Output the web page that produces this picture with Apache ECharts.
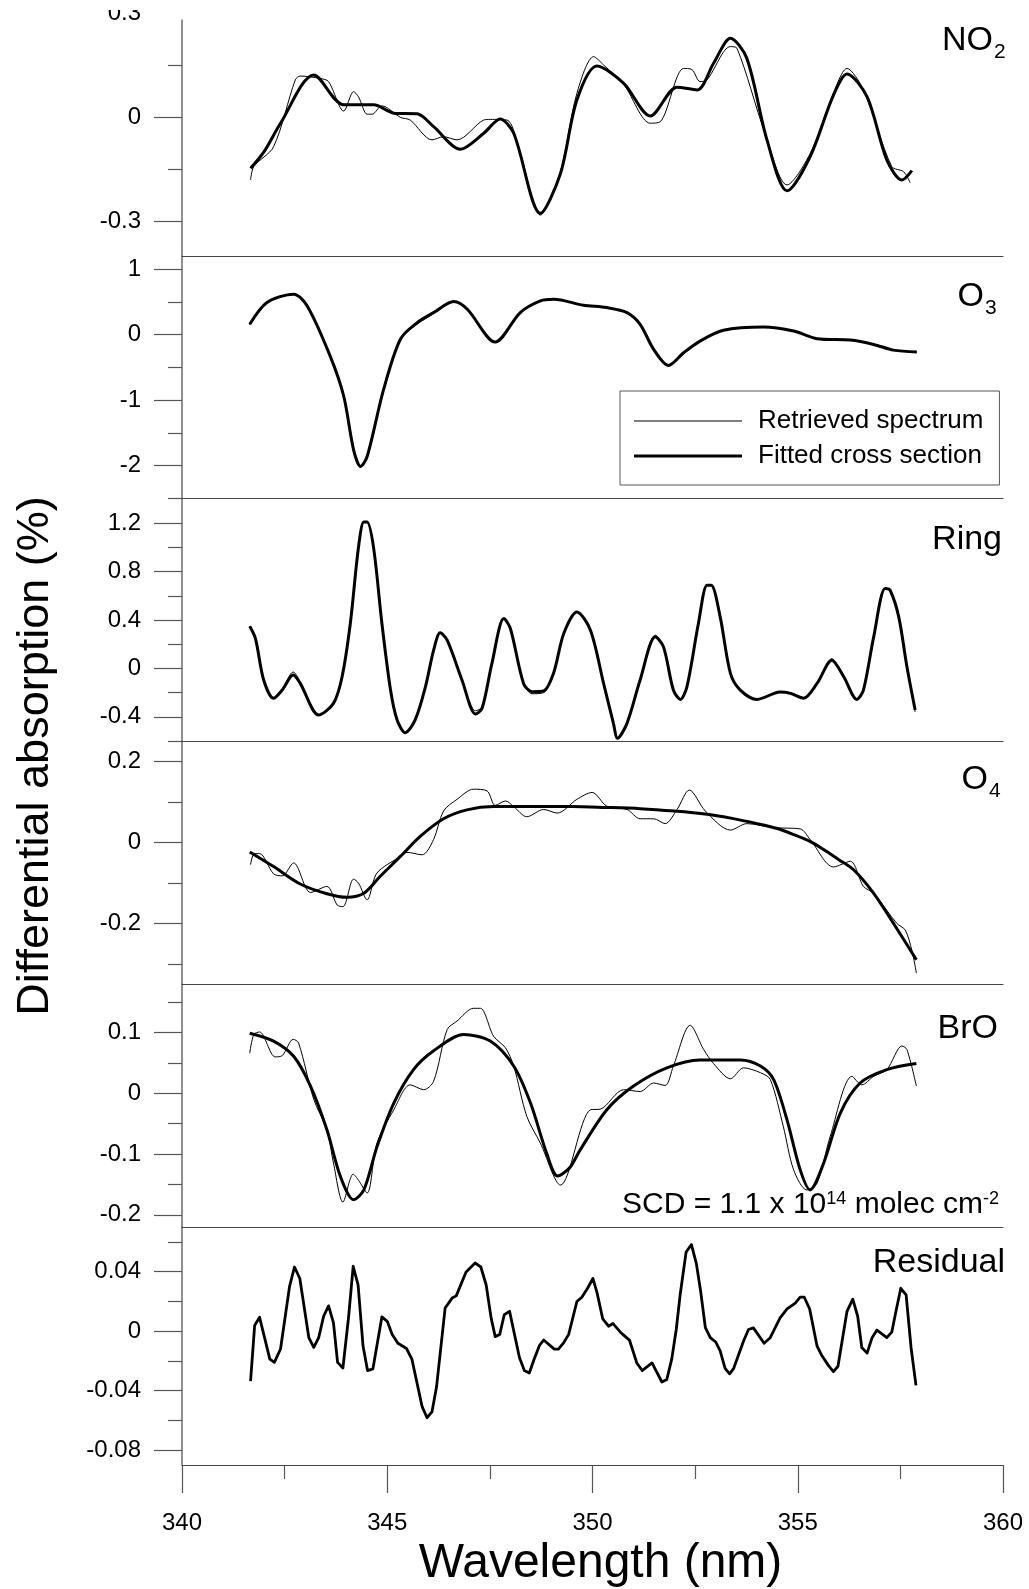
<!DOCTYPE html>
<html><head><meta charset="utf-8">
<script src="https://cdn.jsdelivr.net/npm/echarts@6/dist/echarts.min.js"></script>
<style>html,body{margin:0;padding:0;background:#fff}#chart{width:1029px;height:1589px}</style>
</head><body><div id="chart"></div>
<script>
const FONT = '"Liberation Sans", Arial, Helvetica, sans-serif';

// ---------- x axis ----------
const wavelengthRange = [340, 360];

// ---------- NO2 ----------
const no2Retrieved = [[341.67,-0.181],[341.75,-0.142],[342.23,-0.085],[342.76,0.108],[342.88,0.119],[343.37,0.112],[343.57,0.103],[343.94,0.018],[344.18,0.074],[344.30,0.059],[344.51,0.009],[344.63,0.009],[344.87,0.033],[345.32,0.0],[345.56,-0.008],[346.09,-0.065],[346.37,-0.056],[346.70,-0.065],[347.35,-0.008],[347.51,-0.006],[347.92,-0.008],[348.20,-0.085],[348.73,-0.282],[349.20,-0.165],[349.62,0.069],[350.03,0.175],[350.27,0.151],[350.76,0.095],[351.41,-0.017],[351.65,-0.013],[352.22,0.141],[352.42,0.138],[352.62,0.103],[352.79,0.108],[353.36,0.204],[353.52,0.199],[354.20,-0.045],[354.74,-0.195],[355.30,-0.105],[355.87,0.070],[356.20,0.141],[356.60,0.079],[357.29,-0.142],[357.58,-0.157],[357.74,-0.189]];
const no2Fitted = [[341.67,-0.147],[342.00,-0.099],[342.40,-0.017],[343.21,0.122],[343.94,0.036],[344.67,0.036],[345.16,0.012],[345.73,0.010],[346.13,-0.027],[346.78,-0.092],[347.35,-0.046],[347.75,-0.005],[348.08,-0.046],[348.73,-0.277],[349.22,-0.162],[349.62,0.050],[350.11,0.148],[350.76,0.098],[351.41,0.004],[352.06,0.087],[352.55,0.079],[352.95,0.156],[353.36,0.228],[353.76,0.170],[354.25,-0.065],[354.74,-0.212],[355.30,-0.114],[355.87,0.064],[356.20,0.125],[356.69,0.059],[357.17,-0.123],[357.54,-0.181],[357.78,-0.154]];
const no2Labels = [-0.3, 0, 0.3];
const no2Major = [-0.3, 0];
const no2Minor = [-0.15, 0.15];

// ---------- O3 ----------
const o3Retrieved = [[341.65,0.150],[342.07,0.480],[342.72,0.625],[343.05,0.440],[343.61,-0.320],[343.94,-0.940],[344.18,-1.757],[344.35,-2.010],[344.51,-1.860],[344.91,-0.840],[345.32,-0.070],[345.73,0.160],[346.13,0.320],[346.62,0.500],[346.95,0.387],[347.63,-0.113],[348.24,0.337],[348.73,0.515],[349.05,0.540],[349.78,0.450],[350.35,0.413],[350.84,0.337],[351.16,0.158],[351.49,-0.225],[351.85,-0.470],[352.22,-0.290],[352.62,-0.098],[353.19,0.066],[354.17,0.116],[354.90,0.055],[355.47,-0.061],[356.28,-0.083],[356.85,-0.149],[357.33,-0.236],[357.90,-0.266]];
const o3Fitted = [[341.65,0.158],[342.07,0.490],[342.72,0.617],[343.05,0.438],[343.61,-0.327],[343.94,-0.940],[344.18,-1.757],[344.35,-2.010],[344.51,-1.860],[344.91,-0.840],[345.32,-0.070],[345.73,0.184],[346.13,0.337],[346.62,0.505],[346.95,0.387],[347.63,-0.113],[348.24,0.337],[348.73,0.515],[349.05,0.540],[349.78,0.450],[350.35,0.413],[350.84,0.337],[351.16,0.158],[351.49,-0.225],[351.85,-0.470],[352.22,-0.276],[352.62,-0.098],[353.19,0.066],[354.17,0.116],[354.90,0.055],[355.47,-0.061],[356.28,-0.083],[356.85,-0.149],[357.33,-0.236],[357.90,-0.266]];
const o3Labels = [-2, -1, 0, 1];
const o3Minor = [-2.5, -1.5, -0.5, 0.5];

// ---------- Ring ----------
const ringRetrieved = [[341.65,0.349],[341.79,0.247],[341.99,-0.096],[342.23,-0.240],[342.44,-0.170],[342.71,-0.030],[342.88,-0.110],[343.33,-0.385],[343.69,-0.289],[343.90,-0.069],[344.10,0.371],[344.30,1.003],[344.43,1.209],[344.51,1.209],[344.67,0.990],[344.87,0.371],[345.08,-0.179],[345.24,-0.426],[345.44,-0.531],[345.68,-0.426],[345.93,-0.152],[346.13,0.151],[346.29,0.294],[346.46,0.233],[346.82,-0.096],[347.15,-0.350],[347.31,-0.320],[347.55,0.041],[347.84,0.412],[348.00,0.330],[348.32,-0.124],[348.53,-0.210],[348.81,-0.200],[349.05,-0.041],[349.30,0.289],[349.62,0.467],[349.95,0.316],[350.27,-0.124],[350.51,-0.454],[350.61,-0.577],[350.84,-0.454],[351.16,-0.096],[351.53,0.275],[351.73,0.178],[351.97,-0.179],[352.14,-0.256],[352.30,-0.152],[352.58,0.371],[352.79,0.687],[352.89,0.687],[353.11,0.426],[353.36,-0.041],[353.60,-0.179],[354.01,-0.256],[354.57,-0.190],[354.82,-0.200],[355.14,-0.240],[355.47,-0.124],[355.83,0.080],[356.12,-0.069],[356.44,-0.256],[356.60,-0.179],[356.85,0.261],[357.13,0.660],[357.25,0.646],[357.46,0.426],[357.66,0.013],[357.86,-0.360]];
const ringFitted = [[341.65,0.349],[341.79,0.247],[341.99,-0.096],[342.23,-0.247],[342.44,-0.179],[342.71,-0.055],[342.88,-0.124],[343.33,-0.385],[343.69,-0.289],[343.90,-0.069],[344.10,0.371],[344.30,1.003],[344.43,1.209],[344.51,1.209],[344.67,0.990],[344.87,0.371],[345.08,-0.179],[345.24,-0.426],[345.44,-0.531],[345.68,-0.426],[345.93,-0.152],[346.13,0.151],[346.29,0.294],[346.46,0.233],[346.82,-0.096],[347.15,-0.377],[347.31,-0.330],[347.55,0.041],[347.84,0.412],[348.00,0.330],[348.32,-0.124],[348.53,-0.193],[348.81,-0.187],[349.05,-0.041],[349.30,0.289],[349.62,0.467],[349.95,0.316],[350.27,-0.124],[350.51,-0.454],[350.61,-0.577],[350.84,-0.454],[351.16,-0.096],[351.53,0.261],[351.73,0.178],[351.97,-0.179],[352.14,-0.256],[352.30,-0.152],[352.58,0.371],[352.79,0.687],[352.89,0.687],[353.11,0.426],[353.36,-0.041],[353.60,-0.179],[354.01,-0.256],[354.57,-0.195],[354.82,-0.206],[355.14,-0.247],[355.47,-0.124],[355.83,0.068],[356.12,-0.069],[356.44,-0.256],[356.60,-0.179],[356.85,0.261],[357.13,0.660],[357.25,0.646],[357.46,0.426],[357.66,0.013],[357.86,-0.344]];
const ringLabels = [-0.4, 0, 0.4, 0.8, 1.2];
const ringMinor = [-0.6, -0.2, 0.2, 0.6, 1.0];

// ---------- O4 ----------
const o4Retrieved = [[341.67,-0.055],[341.76,-0.028],[341.89,-0.028],[342.23,-0.078],[342.44,-0.083],[342.72,-0.051],[343.13,-0.124],[343.53,-0.109],[343.78,-0.155],[343.92,-0.159],[344.18,-0.091],[344.30,-0.101],[344.51,-0.142],[344.75,-0.076],[345.32,-0.035],[345.48,-0.025],[345.85,-0.031],[346.13,0.007],[346.37,0.077],[346.70,0.106],[347.10,0.131],[347.43,0.127],[347.63,0.091],[347.88,0.102],[348.08,0.088],[348.40,0.063],[348.81,0.081],[349.14,0.072],[349.62,0.106],[349.99,0.123],[350.35,0.089],[350.84,0.081],[351.16,0.058],[351.49,0.058],[351.77,0.046],[352.06,0.081],[352.36,0.129],[352.75,0.077],[353.36,0.030],[353.76,0.046],[354.41,0.036],[355.06,0.033],[355.30,0.007],[355.87,-0.061],[356.28,-0.047],[356.60,-0.109],[356.85,-0.126],[357.41,-0.200],[357.62,-0.217],[357.78,-0.267],[357.89,-0.323]];
const o4Fitted = [[341.65,-0.024],[342.23,-0.060],[342.88,-0.103],[343.53,-0.127],[344.02,-0.136],[344.43,-0.126],[344.83,-0.084],[345.32,-0.035],[345.81,0.015],[346.37,0.058],[346.94,0.080],[347.59,0.088],[348.73,0.088],[349.50,0.088],[350.30,0.086],[351.16,0.083],[352.00,0.077],[352.79,0.069],[353.40,0.059],[354.01,0.046],[354.50,0.034],[354.90,0.019],[355.30,0.002],[355.63,-0.018],[356.00,-0.043],[356.36,-0.068],[356.85,-0.126],[357.33,-0.200],[357.89,-0.290]];
const o4Labels = [-0.2, 0, 0.2];
const o4Minor = [-0.3, -0.1, 0.1];

// ---------- BrO ----------
const broRetrieved = [[341.65,0.066],[341.75,0.097],[341.89,0.101],[342.27,0.060],[342.44,0.062],[342.71,0.089],[342.84,0.083],[343.21,-0.010],[343.53,-0.060],[343.69,-0.115],[343.92,-0.179],[344.17,-0.133],[344.30,-0.143],[344.51,-0.164],[344.75,-0.082],[345.16,-0.027],[345.56,0.014],[345.89,0.006],[346.13,0.020],[346.46,0.105],[346.70,0.119],[347.10,0.140],[347.27,0.140],[347.59,0.094],[347.88,0.075],[348.08,0.045],[348.40,-0.038],[348.73,-0.082],[349.22,-0.151],[349.95,-0.027],[350.19,-0.026],[350.76,0.006],[351.16,0.003],[351.49,0.017],[351.77,0.013],[351.97,0.045],[352.38,0.112],[352.71,0.072],[352.95,0.049],[353.36,0.024],[353.68,0.042],[354.09,0.034],[354.33,0.023],[354.65,-0.055],[354.90,-0.126],[355.22,-0.159],[355.47,-0.148],[355.79,-0.071],[356.32,0.028],[356.56,0.014],[356.85,0.028],[357.17,0.039],[357.54,0.078],[357.66,0.072],[357.89,0.012]];
const broFitted = [[341.65,0.099],[342.23,0.086],[342.72,0.061],[343.13,0.012],[343.53,-0.060],[343.86,-0.137],[344.18,-0.175],[344.43,-0.159],[344.75,-0.088],[345.16,-0.016],[345.64,0.039],[346.13,0.070],[346.86,0.097],[347.51,0.086],[348.08,0.045],[348.49,-0.016],[348.89,-0.100],[349.15,-0.136],[349.45,-0.122],[349.70,-0.093],[350.35,-0.027],[351.00,0.012],[351.81,0.042],[352.62,0.055],[353.60,0.055],[354.09,0.045],[354.41,0.023],[354.74,-0.044],[355.06,-0.126],[355.30,-0.159],[355.63,-0.115],[356.04,-0.032],[356.52,0.017],[357.17,0.039],[357.89,0.049]];
const broLabels = [-0.2, -0.1, 0, 0.1];
const broMinor = [-0.15, -0.05, 0.05, 0.15];

// ---------- Residual ----------
const residual = [[341.67,-0.0336],[341.77,0.0038],[341.89,0.0093],[342.14,-0.0188],[342.25,-0.021],[342.40,-0.012],[342.62,0.030],[342.74,0.0431],[342.87,0.0354],[343.09,-0.0044],[343.21,-0.011],[343.33,-0.0044],[343.45,0.010],[343.57,0.017],[343.69,0.0056],[343.79,-0.021],[343.92,-0.0248],[344.06,0.010],[344.17,0.0436],[344.29,0.031],[344.41,-0.010],[344.52,-0.0265],[344.65,-0.0254],[344.87,0.0096],[345.00,0.0066],[345.12,-0.0022],[345.26,-0.0082],[345.47,-0.0117],[345.60,-0.0188],[345.85,-0.0508],[345.97,-0.0582],[346.09,-0.0542],[346.20,-0.0376],[346.41,0.0155],[346.58,0.0222],[346.68,0.0237],[346.92,0.0398],[347.14,0.0458],[347.28,0.0431],[347.41,0.031],[347.53,0.0089],[347.63,-0.0037],[347.74,-0.0022],[347.85,0.011],[347.98,0.0133],[348.22,-0.0177],[348.34,-0.0265],[348.46,-0.0281],[348.58,-0.0188],[348.71,-0.0095],[348.81,-0.006],[349.07,-0.0121],[349.17,-0.0121],[349.30,-0.0077],[349.42,-0.0022],[349.62,0.0199],[349.74,0.0228],[349.88,0.0288],[350.01,0.0354],[350.11,0.0259],[350.25,0.0082],[350.39,0.0033],[350.50,0.0051],[350.68,-0.0007],[350.80,-0.0037],[350.90,-0.006],[351.08,-0.0214],[351.21,-0.0265],[351.45,-0.0214],[351.69,-0.0342],[351.81,-0.0325],[351.93,-0.0188],[352.04,0.0011],[352.14,0.0255],[352.28,0.0531],[352.41,0.0582],[352.53,0.0454],[352.63,0.0277],[352.75,0.0023],[352.87,-0.0044],[353.00,-0.0073],[353.11,-0.0133],[353.23,-0.025],[353.34,-0.0287],[353.44,-0.025],[353.68,-0.0066],[353.80,0.0011],[353.92,0.0022],[354.18,-0.0082],[354.33,-0.0044],[354.57,0.0089],[354.74,0.0149],[354.94,0.0188],[355.06,0.0228],[355.16,0.0228],[355.29,0.0149],[355.47,-0.010],[355.59,-0.0166],[355.75,-0.0232],[355.87,-0.0272],[355.98,-0.0236],[356.20,0.0133],[356.34,0.0215],[356.46,0.010],[356.56,-0.011],[356.69,-0.0148],[356.81,-0.0044],[356.93,0.0007],[357.17,-0.0044],[357.29,-0.0007],[357.40,0.0144],[357.51,0.0288],[357.64,0.0244],[357.76,-0.011],[357.88,-0.0365]];
const residualLabels = [-0.08, -0.04, 0, 0.04];
const residualMinor = [-0.06, -0.02, 0.02, 0.06];

const legendNames = ['Retrieved spectrum', 'Fitted cross section'];

// ---------- layout (pixels) ----------
const PLOT_LEFT = 182, PLOT_WIDTH = 821;
const layout = [
  {top: 13.3, height: 242.7, min: -0.4, max: 0.3},
  {top: 256, height: 242.5, min: -2.5, max: 1.2},
  {top: 499, height: 242, min: -0.6, max: 1.4},
  {top: 741, height: 243, min: -0.35, max: 0.25},
  {top: 984, height: 243, min: -0.22, max: 0.18},
  {top: 1227, height: 241, min: -0.09, max: 0.07}
];
const panelData = [
  {ret: no2Retrieved, fit: no2Fitted, labels: no2Labels, major: no2Major, minor: no2Minor},
  {ret: o3Retrieved, fit: o3Fitted, labels: o3Labels, major: o3Labels, minor: o3Minor},
  {ret: ringRetrieved, fit: ringFitted, labels: ringLabels, major: ringLabels, minor: ringMinor},
  {ret: o4Retrieved, fit: o4Fitted, labels: o4Labels, major: o4Labels, minor: o4Minor},
  {ret: broRetrieved, fit: broFitted, labels: broLabels, major: broLabels, minor: broMinor},
  {ret: null, fit: residual, labels: residualLabels, major: residualLabels, minor: residualMinor}
];

const TICK_COLOR = '#555';
const grids = [], xAxes = [], yAxes = [], series = [];
layout.forEach((L, i) => {
  const P = panelData[i];
  const last = i === layout.length - 1;
  grids.push({left: PLOT_LEFT, width: PLOT_WIDTH, top: L.top, height: L.height});
  xAxes.push({
    gridIndex: i, type: 'value', min: wavelengthRange[0], max: wavelengthRange[1],
    interval: 5, position: 'bottom',
    axisLine: {show: true, onZero: false, lineStyle: {color: '#444', width: 1.2}},
    axisTick: {show: last, length: 28, lineStyle: {color: TICK_COLOR, width: 1.2}},
    minorTick: {show: last, splitNumber: 2, length: 14, lineStyle: {color: TICK_COLOR, width: 1.2}},
    axisLabel: {show: last, fontSize: 24, fontFamily: FONT, color: '#000', margin: 46},
    splitLine: {show: false},
    name: last ? 'Wavelength (nm)' : '',
    nameLocation: 'middle', nameGap: 75,
    nameTextStyle: {fontSize: 48, fontFamily: FONT, color: '#000', padding: [0, 0, 0, 16]}
  });
  yAxes.push({
    gridIndex: i, type: 'value', min: L.min, max: L.max, position: 'left',
    axisLine: {show: true, onZero: false, lineStyle: {color: '#6a6a6a', width: 1.5}},
    axisTick: {show: true, length: 28, customValues: P.major, lineStyle: {color: TICK_COLOR, width: 1.2}},
    axisLabel: {show: true, customValues: P.labels, fontSize: 24, fontFamily: FONT, color: '#000', margin: 41},
    splitLine: {show: false}
  });
  yAxes.push({
    gridIndex: i, type: 'value', min: L.min, max: L.max, position: 'left', offset: 0,
    axisLine: {show: false, onZero: false},
    axisTick: {show: true, length: 14, customValues: P.minor, lineStyle: {color: TICK_COLOR, width: 1.2}},
    axisLabel: {show: false},
    splitLine: {show: false}
  });
  if (P.ret) {
    series.push({
      type: 'line', name: legendNames[0], xAxisIndex: i, yAxisIndex: 2 * i,
      data: P.ret, symbol: 'none', showSymbol: false, smooth: 0.3, silent: true,
      lineStyle: {color: '#000', width: 1}, itemStyle: {color: '#000'}, z: 3
    });
    series.push({
      type: 'line', name: legendNames[1], xAxisIndex: i, yAxisIndex: 2 * i,
      data: P.fit, symbol: 'none', showSymbol: false, smooth: 0.3, silent: true,
      lineStyle: {color: '#000', width: 3}, itemStyle: {color: '#000'}, z: 4
    });
  } else {
    series.push({
      type: 'line', name: 'Residual', xAxisIndex: i, yAxisIndex: 2 * i,
      data: P.fit, symbol: 'none', showSymbol: false, smooth: false, silent: true,
      lineStyle: {color: '#000', width: 2.8, join: 'round'}, itemStyle: {color: '#000'}, z: 4
    });
  }
});

const LABEL_SIZE = 34, SUB_SIZE = 21;
function label(text, sub, xRight, yMid) {
  const els = [];
  if (sub) {
    els.push({type: 'text', x: xRight - 14, y: yMid, z: 10,
      style: {text: text, fontSize: LABEL_SIZE, fontFamily: FONT, fill: '#000', align: 'right', verticalAlign: 'middle'}});
    els.push({type: 'text', x: xRight - 13, y: yMid + 11, z: 10,
      style: {text: sub, fontSize: SUB_SIZE, fontFamily: FONT, fill: '#000', align: 'left', verticalAlign: 'middle'}});
  } else {
    els.push({type: 'text', x: xRight, y: yMid, z: 10,
      style: {text: text, fontSize: LABEL_SIZE, fontFamily: FONT, fill: '#000', align: 'right', verticalAlign: 'middle'}});
  }
  return els;
}

const graphics = [].concat(
  label('NO', '2', 1007, 41),
  label('O', '3', 998, 297),
  label('Ring', null, 1002, 540),
  label('O', '4', 1002, 780),
  label('BrO', null, 998, 1029),
  label('Residual', null, 1005, 1263),
  [{type: 'text', x: 999, y: 1205, z: 10,
    style: {text: '{a|SCD = 1.1 x 10}{b|14}{a| molec cm}{b|-2}', align: 'right', verticalAlign: 'middle',
      fontFamily: FONT, fill: '#000',
      rich: {a: {fontSize: 30, lineHeight: 30, fontFamily: FONT, fill: '#000'},
             b: {fontSize: 18, lineHeight: 18, fontFamily: FONT, fill: '#000', verticalAlign: 'top'}}}},
   {type: 'text', x: 36, y: 756, rotation: Math.PI / 2, z: 10,
    style: {text: 'Differential absorption (%)', fontSize: 45, fontFamily: FONT, fill: '#000',
      align: 'center', verticalAlign: 'middle'}},
   {type: 'rect', shape: {x: 0, y: 0, width: 178, height: 10}, style: {fill: '#fff'}, z: 20, silent: true},
   {type: 'rect', shape: {x: 176, y: 0, width: 12, height: 19.5}, style: {fill: '#fff'}, z: 20, silent: true}]
);

const chart = echarts.init(document.getElementById('chart'), null, {renderer: 'canvas'});
chart.setOption({
  animation: false,
  backgroundColor: '#fff',
  textStyle: {fontFamily: FONT},
  grid: grids,
  xAxis: xAxes,
  yAxis: yAxes,
  series: series,
  legend: {
    data: [
      {name: legendNames[0], icon: 'path://M0,0H108V1H0Z'},
      {name: legendNames[1], icon: 'path://M0,0H108V3H0Z'}
    ],
    orient: 'vertical', left: 620, top: 391,
    padding: [15, 16, 14, 14], itemGap: 5, itemWidth: 108, itemHeight: 14,
    borderColor: '#555', borderWidth: 1, borderRadius: 0, backgroundColor: '#fff',
    selectedMode: false,
    itemStyle: {color: '#000', borderWidth: 0},
    textStyle: {fontFamily: FONT, fontSize: 26, color: '#000', lineHeight: 30, padding: [0, 0, 0, 11]}
  },
  graphic: graphics
});
</script>
</body></html>
